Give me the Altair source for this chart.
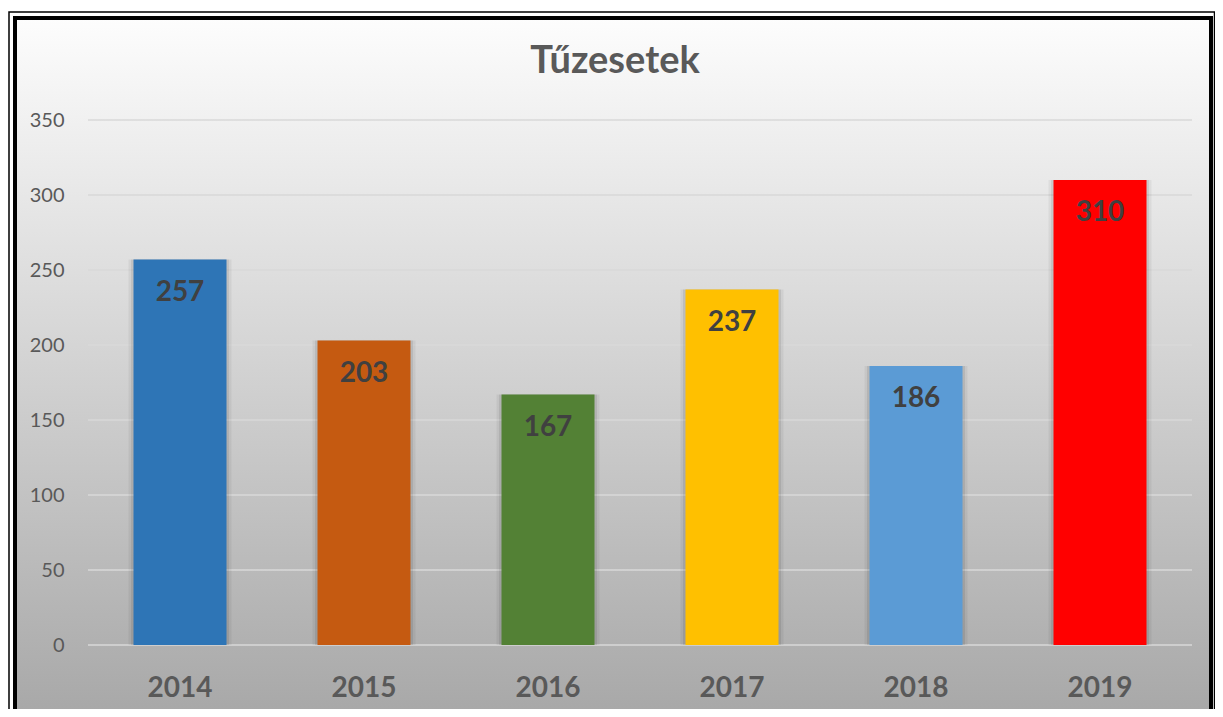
import altair as alt
import pandas as pd

title_text = "Tűzesetek"
years = ["2014", "2015", "2016", "2017", "2018", "2019"]
values = [257, 203, 167, 237, 186, 310]
colors = ["#2e75b6", "#c55a11", "#538135", "#ffc000", "#5b9bd5", "#ff0000"]
y_ticks = [0, 50, 100, 150, 200, 250, 300, 350]

W, H = 1104, 525

df = pd.DataFrame({"year": years, "value": values})
ticks_df = pd.DataFrame({"t": y_ticks})

yscale = alt.Scale(domain=[0, 350], nice=False)
xscale = alt.Scale(domain=years, paddingInner=0, paddingOuter=0)

y_axis = alt.Axis(values=y_ticks, title=None, domain=False, ticks=False, grid=False,
                  labelFont="Lato", labelFontSize=20, labelColor="#595959",
                  labelPadding=24, zindex=1)
x_axis = alt.Axis(title=None, labelAngle=0, domain=False, ticks=False, grid=False,
                  labelFont="Lato", labelFontSize=28, labelFontWeight="bold",
                  labelColor="#595959", labelPadding=29, zindex=1)

grad = alt.LinearGradient(
    gradient="linear",
    stops=[alt.GradientStop(color="#fdfdfd", offset=0),
           alt.GradientStop(color="#a6a6a6", offset=1)],
    x1=0, x2=0, y1=0, y2=1,
)

bg = alt.Chart(alt.Data(values=[{}])).mark_rect(
    fill=grad, stroke="black", strokeWidth=4
).encode(x=alt.value(-73), x2=alt.value(1123), y=alt.value(-102), y2=alt.value(610))

outer = alt.Chart(alt.Data(values=[{}])).mark_rect(
    fill="transparent", stroke="black", strokeWidth=1.5
).encode(x=alt.value(-79), x2=alt.value(1126.5), y=alt.value(-108), y2=alt.value(620))

title = alt.Chart(alt.Data(values=[{"t": title_text}])).mark_text(
    font="Lato", fontSize=38, fontWeight="bold", color="#595959",
    baseline="alphabetic", align="center"
).encode(text="t:N", x=alt.value(527), y=alt.value(-47))

grid = alt.Chart(ticks_df).mark_rule(color="#d9d9d9", strokeWidth=1.5).encode(
    y=alt.Y("t:Q", scale=yscale, axis=y_axis)
)

base = alt.Chart(df).encode(
    x=alt.X("year:N", scale=xscale, axis=x_axis, sort=years),
    y=alt.Y("value:Q", scale=yscale, axis=y_axis),
)

shadow1 = base.mark_bar(size=103, color="black", opacity=0.05)
shadow2 = base.mark_bar(size=98, color="black", opacity=0.08)

bars = base.mark_bar(size=93).encode(
    color=alt.Color("year:N", scale=alt.Scale(domain=years, range=colors), legend=None)
)

labels = base.mark_text(dy=33, fontSize=28, font="Lato", fontWeight="bold",
                        color="#404040", baseline="middle").encode(text="value:Q")

chart = alt.layer(bg, outer, title, grid, shadow1, shadow2, bars, labels).properties(
    width=W, height=H,
    padding={"left": 80, "top": 112, "right": 23, "bottom": 64},
    autosize=alt.AutoSizeParams(type="none"),
).configure_view(strokeWidth=0).configure(background="white")

chart.save("out.html", embed_options={"renderer": "svg", "actions": False})
